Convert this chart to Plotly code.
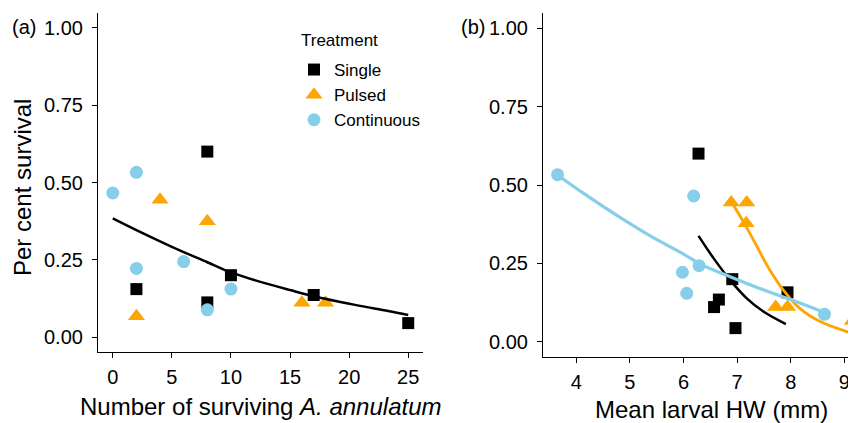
import plotly.graph_objects as go

# The page body has an 8 px margin, so the figure is 8 px smaller than the window
# and positions below are given in window pixels, converted by sx()/sy().
OFF = 8
W, H = 856 - OFF, 423 - OFF

def sx(px):
    return (px - OFF) / W

def sy(py):
    return 1 - (py - OFF) / H

# ---------------- Panel (a): survival vs number of surviving A. annulatum
a_single_x = [2, 8, 8, 10, 17, 25]
a_single_y = [0.155, 0.600, 0.112, 0.200, 0.136, 0.045]
a_pulsed_x = [2, 4, 8, 16, 18]
a_pulsed_y = [0.067, 0.444, 0.375, 0.111, 0.111]
a_cont_x = [0, 2, 2, 6, 8, 10]
a_cont_y = [0.466, 0.533, 0.222, 0.244, 0.088, 0.155]
a_fit_x = [0, 2, 5, 8, 10, 12, 15, 17, 20.5, 23.3, 25]
a_fit_y = [0.384, 0.346, 0.292, 0.242, 0.209, 0.184, 0.152, 0.132, 0.104, 0.084, 0.071]

# ---------------- Panel (b): survival vs mean larval head width
b_single_x = [6.28, 6.91, 6.66, 6.57, 6.97, 7.94]
b_single_y = [0.600, 0.200, 0.135, 0.111, 0.044, 0.158]
b_pulsed_x = [6.89, 7.18, 7.17, 7.72, 7.94, 9.15]
b_pulsed_y = [0.444, 0.444, 0.378, 0.111, 0.111, 0.067]
b_cont_x = [3.65, 6.19, 6.29, 5.98, 6.06, 8.63]
b_cont_y = [0.533, 0.465, 0.243, 0.222, 0.155, 0.088]
b_fit_single_x = [6.28, 6.56, 6.87, 7.18, 7.49, 7.91]
b_fit_single_y = [0.338, 0.267, 0.197, 0.139, 0.097, 0.057]
b_fit_pulsed_x = [6.93, 7.15, 7.37, 7.61, 7.86, 8.17, 8.55, 9.14]
b_fit_pulsed_y = [0.436, 0.373, 0.304, 0.229, 0.166, 0.107, 0.065, 0.028]
b_fit_cont_x = [3.65, 4.13, 4.75, 5.38, 6.0, 6.31, 6.87, 7.49, 8.11, 8.61]
b_fit_cont_y = [0.532, 0.474, 0.404, 0.338, 0.280, 0.248, 0.208, 0.166, 0.128, 0.095]

y_ticks = [0, 0.25, 0.5, 0.75, 1.0]
y_ticktext = ["0.00", "0.25", "0.50", "0.75", "1.00"]
a_xticks = [0, 5, 10, 15, 20, 25]
b_xticks = [4, 5, 6, 7, 8, 9]

BLACK = "#000000"
ORANGE = "#FFA500"
BLUE = "#87CEEB"
FONT = "Liberation Sans, Arial, sans-serif"

fig = go.Figure()

def pts(x, y, name, symbol, color, size, xa, ya, legend):
    fig.add_trace(go.Scatter(
        x=x, y=y, mode="markers", name=name, showlegend=legend,
        marker=dict(symbol=symbol, color=color, size=size, line=dict(width=0)),
        xaxis=xa, yaxis=ya))

def fit(x, y, color, width, xa, ya):
    fig.add_trace(go.Scatter(
        x=x, y=y, mode="lines", showlegend=False, hoverinfo="skip",
        line=dict(color=color, width=width, shape="spline", smoothing=1.0),
        xaxis=xa, yaxis=ya))

pts(a_single_x, a_single_y, "Single", "square", BLACK, 12, "x", "y", True)
pts(a_pulsed_x, a_pulsed_y, "Pulsed", "triangle-up", ORANGE, 15, "x", "y", True)
pts(a_cont_x, a_cont_y, "Continuous", "circle", BLUE, 13, "x", "y", True)
fit(a_fit_x, a_fit_y, BLACK, 2.5, "x", "y")

pts(b_single_x, b_single_y, "Single", "square", BLACK, 12, "x2", "y2", False)
pts(b_pulsed_x, b_pulsed_y, "Pulsed", "triangle-up", ORANGE, 15, "x2", "y2", False)
pts(b_cont_x, b_cont_y, "Continuous", "circle", BLUE, 13, "x2", "y2", False)
fit(b_fit_single_x, b_fit_single_y, BLACK, 2.5, "x2", "y2")
fit(b_fit_pulsed_x, b_fit_pulsed_y, ORANGE, 2.8, "x2", "y2")
fit(b_fit_cont_x, b_fit_cont_y, BLUE, 3.2, "x2", "y2")

axis_common = dict(showline=True, linecolor=BLACK, linewidth=1.2, mirror=False,
                   ticks="outside", ticklen=5, tickwidth=1.1, tickcolor=BLACK,
                   showgrid=False, zeroline=False,
                   tickfont=dict(family=FONT, size=20, color=BLACK))

fig.update_layout(
    width=W, height=H,
    margin=dict(l=0, r=0, t=0, b=0),
    paper_bgcolor="white", plot_bgcolor="white",
    font=dict(family=FONT, color=BLACK),
    xaxis=dict(domain=[sx(98), sx(423)], range=[-1.25, 26.25], tickvals=a_xticks,
               anchor="y", ticklabelstandoff=2, **axis_common),
    yaxis=dict(domain=[sy(352), sy(13)], range=[-0.0485, 1.0485],
               tickvals=y_ticks, ticktext=y_ticktext, anchor="x",
               ticklabelstandoff=5, **axis_common),
    xaxis2=dict(domain=[sx(543), 1.0], range=[3.379, 9.218], tickvals=b_xticks,
                anchor="y2", ticklabelstandoff=2, **axis_common),
    yaxis2=dict(domain=[sy(357), sy(13)], range=[-0.048, 1.048],
                tickvals=y_ticks, ticktext=y_ticktext, anchor="x2",
                ticklabelstandoff=5, **axis_common),
    legend=dict(x=sx(294), y=sy(52), xanchor="left", yanchor="top",
                bgcolor="rgba(0,0,0,0)", borderwidth=0,
                font=dict(family=FONT, size=17, color=BLACK),
                traceorder="normal"),
    showlegend=True,
)

ann = [
    dict(text="(a)", x=sx(10), y=sy(27), xanchor="left", yanchor="middle", font_size=20),
    dict(text="(b)", x=sx(459), y=sy(27), xanchor="left", yanchor="middle", font_size=20),
    dict(text="Treatment", x=sx(299), y=sy(40), xanchor="left", yanchor="middle", font_size=17),
    dict(text="Per cent survival", x=sx(22), y=sy(188), xanchor="center",
         yanchor="middle", textangle=-90, font_size=24),
    dict(text="Number of surviving <i>A. annulatum</i>", x=sx(260.5), y=sy(406),
         xanchor="center", yanchor="middle", font_size=24),
    dict(text="Mean larval HW (mm)", x=sx(711), y=sy(409),
         xanchor="center", yanchor="middle", font_size=24),
]
for a in ann:
    fig.add_annotation(xref="paper", yref="paper", showarrow=False,
                       font=dict(family=FONT, size=a.pop("font_size"), color=BLACK), **a)

fig.write_html("out.html")
